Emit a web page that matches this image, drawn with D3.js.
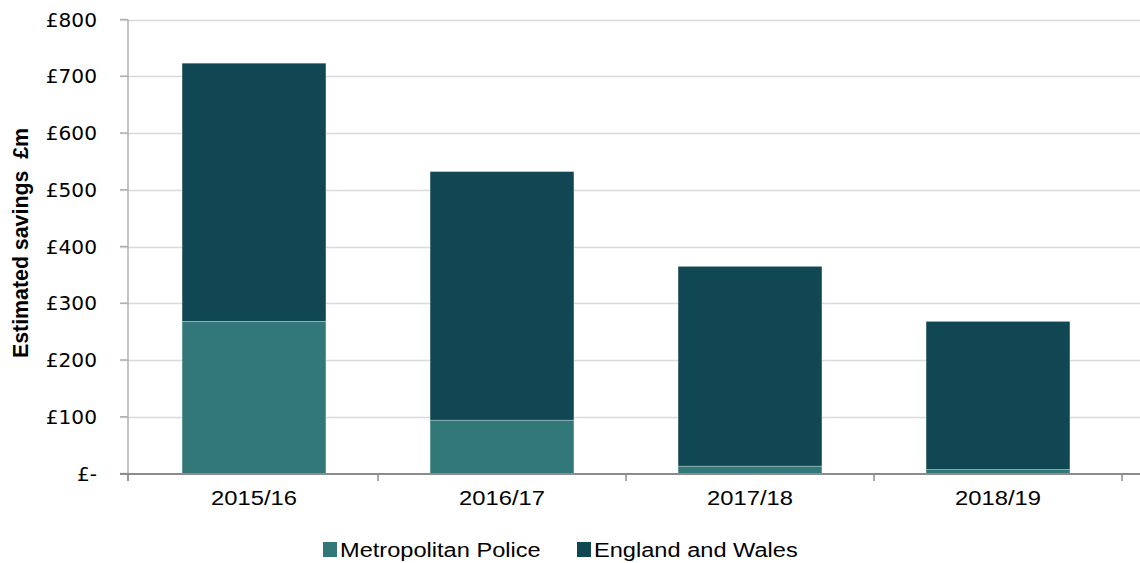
<!DOCTYPE html>
<html lang="en">
	<head>
		<meta charset="utf-8">
		<title>Estimated savings</title>
		<script type="text/javascript" src="https://cdn.jsdelivr.net/npm/d3@7"></script>
		<style type="text/css">
			body { margin: 0; background: #fff; }
			svg { display: block; }
		</style>
	</head>
	<body>
		<script type="text/javascript">

			// data (£m)
			var years = ["2015/16", "2016/17", "2017/18", "2018/19"];
			var metPolice = [268, 94, 13, 7];
			var englandWales = [455, 438, 352, 261];
			var seriesNames = ["Metropolitan Police", "England and Wales"];
			var yTicks = [0, 100, 200, 300, 400, 500, 600, 700, 800];

			var w = 1140;
			var h = 563;
			var colors = ["#327878", "#104752"];

			var svg = d3.select("body")
						.append("svg")
						.attr("width", w)
						.attr("height", h);

			var x = d3.scaleBand()
					  .domain(years)
					  .range([130, 1122])
					  .paddingInner(0.42)
					  .paddingOuter(0.21);

			var y = d3.scaleLinear()
					  .domain([0, 800])
					  .range([473.5, 19.5]);

			// stretch text horizontally, the source image is wider than tall
			function widen(sel, k) {
				sel.each(function () {
					var len = this.getComputedTextLength();
					d3.select(this)
					  .attr("textLength", len * k)
					  .attr("lengthAdjust", "spacingAndGlyphs");
				});
			}

			//Gridlines
			svg.append("g")
			   .selectAll("line")
			   .data(yTicks.filter(function (d) { return d > 0; }))
			   .enter()
			   .append("line")
			   .attr("x1", 120)
			   .attr("x2", w)
			   .attr("y1", function (d) { return Math.round(y(d)) + 0.5; })
			   .attr("y2", function (d) { return Math.round(y(d)) + 0.5; })
			   .attr("stroke", "#d9d9d9")
			   .attr("stroke-width", 1.5);

			//Stacked bars
			var stackData = years.map(function (yr, i) {
				return { year: yr, met: metPolice[i], ew: englandWales[i] };
			});
			var layers = d3.stack().keys(["met", "ew"])(stackData);

			svg.append("g")
			   .selectAll("g")
			   .data(layers)
			   .enter()
			   .append("g")
			   .attr("fill", function (d, i) { return colors[i]; })
			   .selectAll("rect")
			   .data(function (d) { return d; })
			   .enter()
			   .append("rect")
			   .attr("x", function (d) { return x(d.data.year); })
			   .attr("width", x.bandwidth())
			   .attr("y", function (d) { return y(d[1]); })
			   .attr("height", function (d) { return y(d[0]) - y(d[1]); })
			   .attr("stroke", "rgba(255,255,255,0.35)")
			   .attr("stroke-width", 0.8);

			//Y axis
			var yAxis = svg.append("g");
			yAxis.append("line")
				 .attr("x1", 128).attr("x2", 128)
				 .attr("y1", y(800)).attr("y2", 481)
				 .attr("stroke", "#b0b0b0")
				 .attr("stroke-width", 1.5);
			yAxis.selectAll("line.tick")
				 .data(yTicks)
				 .enter()
				 .append("line")
				 .attr("class", "tick")
				 .attr("x1", 120).attr("x2", 128)
				 .attr("y1", function (d) { return y(d); })
				 .attr("y2", function (d) { return y(d); })
				 .attr("stroke", "#b0b0b0")
				 .attr("stroke-width", 1.5);
			yAxis.selectAll("text")
				 .data(yTicks)
				 .enter()
				 .append("text")
				 .attr("x", 97)
				 .attr("y", function (d) { return y(d) + 7; })
				 .attr("text-anchor", "end")
				 .style("font-family", "'DejaVu Sans', Verdana, sans-serif")
				 .style("font-size", "19px")
				 .style("fill", "#000")
				 .text(function (d) { return d === 0 ? "£-" : "£" + d; })
				 .call(widen, 1.06);

			//X axis
			var xAxis = svg.append("g");
			xAxis.append("line")
				 .attr("x1", 120).attr("x2", w)
				 .attr("y1", 474).attr("y2", 474)
				 .attr("stroke", "#8c8c8c")
				 .attr("stroke-width", 2);
			var step = x.step();
			xAxis.selectAll("line.tick")
				 .data(years.concat(["end"]))
				 .enter()
				 .append("line")
				 .attr("class", "tick")
				 .attr("x1", function (d, i) { return i === 0 ? 128 : 130 + i * step; })
				 .attr("x2", function (d, i) { return i === 0 ? 128 : 130 + i * step; })
				 .attr("y1", 474).attr("y2", 481)
				 .attr("stroke", "#8c8c8c")
				 .attr("stroke-width", 1.5);
			xAxis.selectAll("text")
				 .data(years)
				 .enter()
				 .append("text")
				 .attr("x", function (d) { return x(d) + x.bandwidth() / 2; })
				 .attr("y", 505)
				 .attr("text-anchor", "middle")
				 .style("font-family", "'Liberation Sans', Arial, sans-serif")
				 .style("font-size", "19.5px")
				 .style("fill", "#000")
				 .text(function (d) { return d; })
				 .call(widen, 1.22);

			//Y axis title
			svg.append("text")
			   .attr("transform", "translate(28,243) rotate(-90)")
			   .attr("text-anchor", "middle")
			   .style("font-family", "'Liberation Sans', Arial, sans-serif")
			   .style("font-size", "22px")
			   .style("font-weight", "bold")
			   .style("fill", "#000")
			   .attr("xml:space", "preserve")
			   .text("Estimated savings  £m")
			   .call(widen, 0.97);

			//Legend
			var legendX = [323, 577];
			var legend = svg.append("g")
							.selectAll("g")
							.data(seriesNames)
							.enter()
							.append("g")
							.attr("transform", function (d, i) { return "translate(" + legendX[i] + ",542)"; });
			legend.append("rect")
				  .attr("width", 14)
				  .attr("height", 15)
				  .attr("fill", function (d, i) { return colors[i]; });
			legend.append("text")
				  .attr("x", 17)
				  .attr("y", 14.5)
				  .style("font-family", "'Liberation Sans', Arial, sans-serif")
				  .style("font-size", "19.5px")
				  .style("fill", "#000")
				  .text(function (d) { return d; })
				  .call(widen, 1.21);

		</script>
	</body>
</html>
